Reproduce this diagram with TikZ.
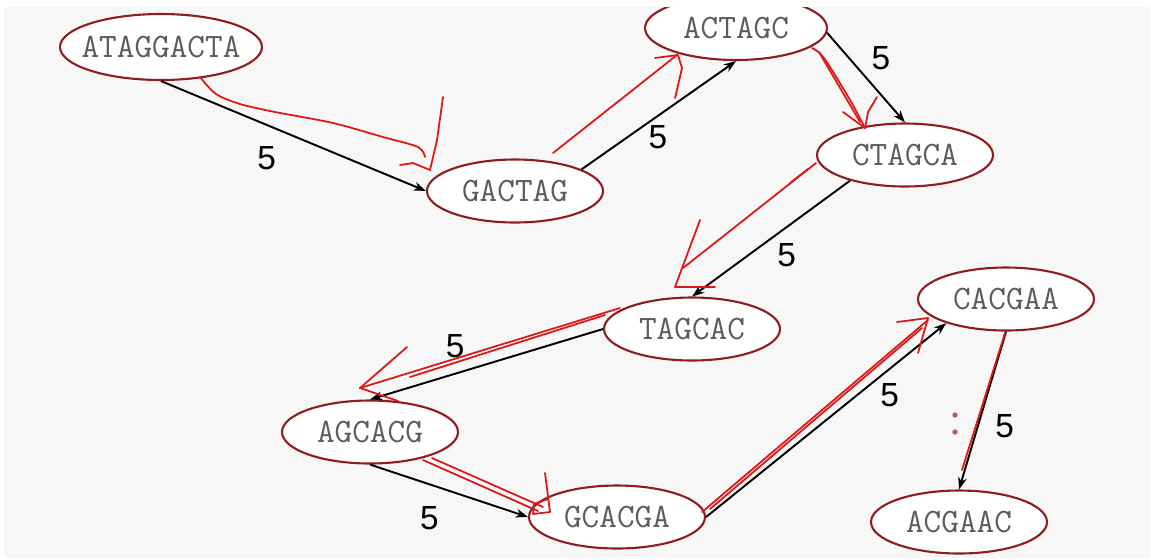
\documentclass[tikz,border=0pt]{standalone}
\usepackage{fontspec}
\setsansfont{Liberation Sans}
\usetikzlibrary{arrows.meta, shapes.geometric}

\definecolor{ringred}{RGB}{145,28,32}
\definecolor{penred}{RGB}{222,22,22}
\definecolor{seqgray}{RGB}{92,92,92}
\definecolor{paper}{RGB}{247,247,247}

\begin{document}
\begin{tikzpicture}[x=0.02cm, y=-0.02cm]
\useasboundingbox (0, 0) rectangle (1151, 559);
\fill [paper] (4, 7) rectangle (1150, 558);
\clip (4, 7) rectangle (1150, 558);

\begin{scope}[
    every node/.style={ellipse,draw=ringred,line width=1.2pt,fill=white,
        minimum width=3.52cm,minimum height=1.26cm,inner sep=0pt,
        text=seqgray,font=\ttfamily\fontsize{19.5}{21}\selectfont}]
    \node (1) at (161, 47) [minimum width=4.04cm,minimum height=1.32cm,inner xsep=-8pt] {ATAGGACTA};
    \node (2) at (515, 191) {GACTAG};
    \node (3) at (736, 28) [minimum width=3.64cm,minimum height=1.28cm] {ACTAGC};
    \node (4) at (905, 155) {CTAGCA};

    % % lower row
    \node (5) at (692, 329) {TAGCAC};
    \node (6) at (370, 432) {AGCACG};
    \node (7) at (617, 517) {GCACGA};
    \node (8) at (1006, 299) {CACGAA};
    \node (9) at (959, 522) {ACGAAC};
\end{scope}

\begin{scope}[>={Stealth[length=7pt,width=5pt]},
              every node/.style={font=\sffamily\fontsize{19}{19}\selectfont},
              every edge/.style={draw=black,line width=1.1pt}]
    \path [->] (1.south) edge node [pos=0.44,shift={(-11, 29)}] {5} (2.west);
    \path [->] (2.18) edge node [pos=0.43,shift={(10, 14)}] {5} (3.south);
    \path [->] (3.-3) edge node [pos=0.46,shift={(18, -16)}] {5} (4.north);
    \path [->] (4.-155) edge node [pos=0.49,shift={(14, 18)}] {5} (5.north);
    \path [->] (5.west) edge node [pos=0.60,shift={(-8, -25)}] {5} (6.north);
    \path [->] (6.south) edge node [pos=0.44,shift={(-10, 31)}] {5} (7.west);
    \path [->] (7.east) edge node [pos=0.71,shift={(13, 16)}] {5} (8.-158);
    \path [->] (8.south) edge node [pos=0.54,shift={(24, 9)}] {5} (9.north);
\end{scope}

% % red pen strokes traced over the path
\begin{scope}[draw=penred,line width=1pt,line cap=round,line join=round]
    \draw plot [smooth] coordinates {(200, 77) (216, 94) (240, 104) (275, 112) (333, 123) (383, 137) (418, 147) (425, 157)};
    \draw (400, 165) -- (413, 163) -- (430, 170) -- (437, 140) -- (443, 97);

    \draw (553, 153) -- (677, 55);
    \draw (655, 58) -- (678, 55) -- (682, 68) -- (675, 98);

    \draw plot [smooth] coordinates {(812, 48) (824, 58) (850, 100) (865, 128)};
    \draw (819, 52) -- (860, 122);
    \draw (843, 112) -- (865, 128) -- (868, 112) -- (877, 97);

    \draw (816, 163) -- (683, 268);
    \draw (808, 169) -- (790, 183);
    \draw (700, 220) -- (675, 287) -- (715, 287);

    \draw (620, 308) -- (360, 388);
    \draw (605, 315) -- (410, 377);
    \draw (407, 347) -- (360, 388) -- (398, 401);

    \draw (423, 460) -- (538, 511);
    \draw (432, 458) -- (543, 507);
    \draw (545, 473) -- (550, 512) -- (533, 514) -- (534, 504) -- (548, 499);

    \draw (702, 512) -- (928, 320);
    \draw (710, 509) -- (922, 328);
    \draw (897, 322) -- (928, 318) -- (918, 353);

    \draw (1005, 333) -- (962, 470);
    \fill [ringred!70!paper] (955, 415) circle (1.5pt) (955, 432) circle (1.5pt);
\end{scope}
\end{tikzpicture}
\end{document}
